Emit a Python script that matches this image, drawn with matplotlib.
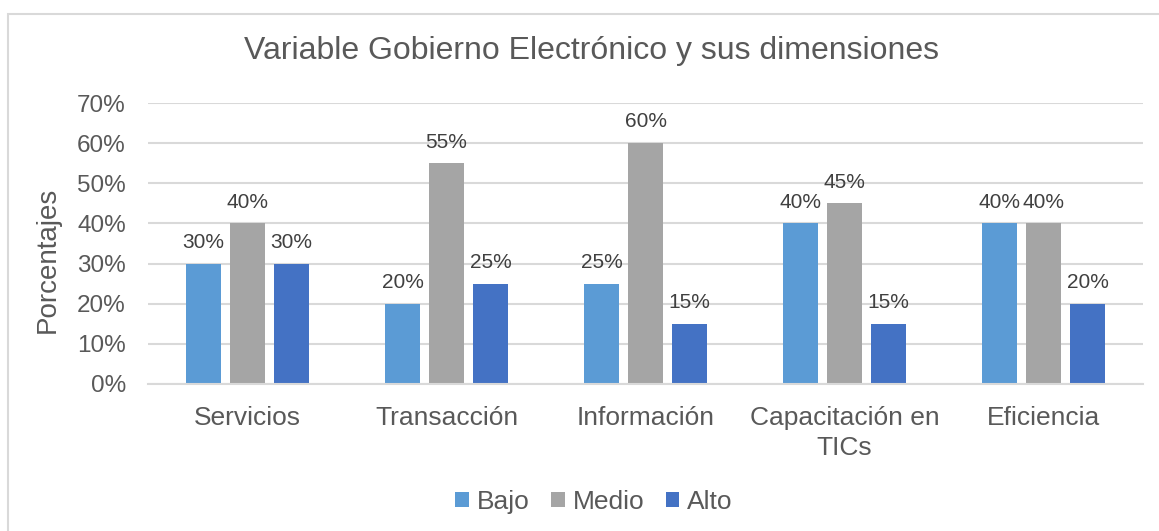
import matplotlib
matplotlib.use("Agg")
import matplotlib.pyplot as plt
import numpy as np
from matplotlib.patches import Rectangle

categories = ["Servicios", "Transacción", "Información", "Capacitación en\nTICs", "Eficiencia"]
series_names = ["Bajo", "Medio", "Alto"]
bajo = [30, 20, 25, 40, 40]
medio = [40, 55, 60, 45, 40]
alto = [30, 25, 15, 15, 20]
yticks = [0, 10, 20, 30, 40, 50, 60, 70]
colors = ["#5B9BD5", "#A5A5A5", "#4472C4"]

plt.rcParams['font.family'] = ['Liberation Sans', 'DejaVu Sans']

W, H = 1159, 531
fig = plt.figure(figsize=(W / 100, H / 100), dpi=100)
ax = fig.add_axes([148 / W, 1 - 384 / H, (1143 - 148) / W, (384 - 103) / H])

x = np.arange(len(categories))
bw = 0.172
off = 0.221
data = [bajo, medio, alto]
for i, (vals, name, c) in enumerate(zip(data, series_names, colors)):
    pos = x + (i - 1) * off
    ax.bar(pos, vals, width=bw, color=c, label=name, zorder=3)
    for p, v in zip(pos, vals):
        ax.text(p, v + 3.9, f"{v}%", ha="center", va="baseline", fontsize=15,
                color="#404040", zorder=4)

ax.set_xlim(-0.5, 4.5)
ax.set_ylim(0, 70)
ax.set_yticks(yticks)
ax.set_yticklabels([f"{t}%" for t in yticks], fontsize=17.5, color="#595959")
ax.set_xticks(x)
ax.set_xticklabels(categories, fontsize=19, color="#595959", linespacing=1.32)
ax.tick_params(axis="both", length=0)
ax.tick_params(axis="y", pad=16)
ax.tick_params(axis="x", pad=15.5)
ax.yaxis.grid(True, color="#D9D9D9", linewidth=1.5, zorder=0)
ax.set_axisbelow(True)
for s in ["top", "right", "left"]:
    ax.spines[s].set_visible(False)
ax.spines["bottom"].set_color("#D9D9D9")
ax.spines["bottom"].set_linewidth(1.5)
ax.spines["bottom"].set_zorder(3.5)

fig.text(48 / W, 1 - 260 / H, "Porcentajes", rotation=90, ha="center", va="center",
         fontsize=20, color="#595959")
fig.text(591.5 / W, 1 - 51 / H, "Variable Gobierno Electrónico y sus dimensiones",
         ha="center", va="center", fontsize=23, color="#595959")

leg = fig.legend(loc="center", bbox_to_anchor=(594 / W, 1 - 502 / H), ncol=3,
                 frameon=False, fontsize=19, handlelength=0.53, handleheight=0.53,
                 handletextpad=0.3, columnspacing=0.8, borderpad=0, borderaxespad=0)
for t in leg.get_texts():
    t.set_color("#595959")

fig.patches.append(Rectangle((7.5 / W, -0.05), 1.1, 1 - 13.5 / H + 0.05,
                             transform=fig.transFigure, fill=False,
                             edgecolor="#D9D9D9", linewidth=1.5))

fig.savefig("out.png", dpi=100)
